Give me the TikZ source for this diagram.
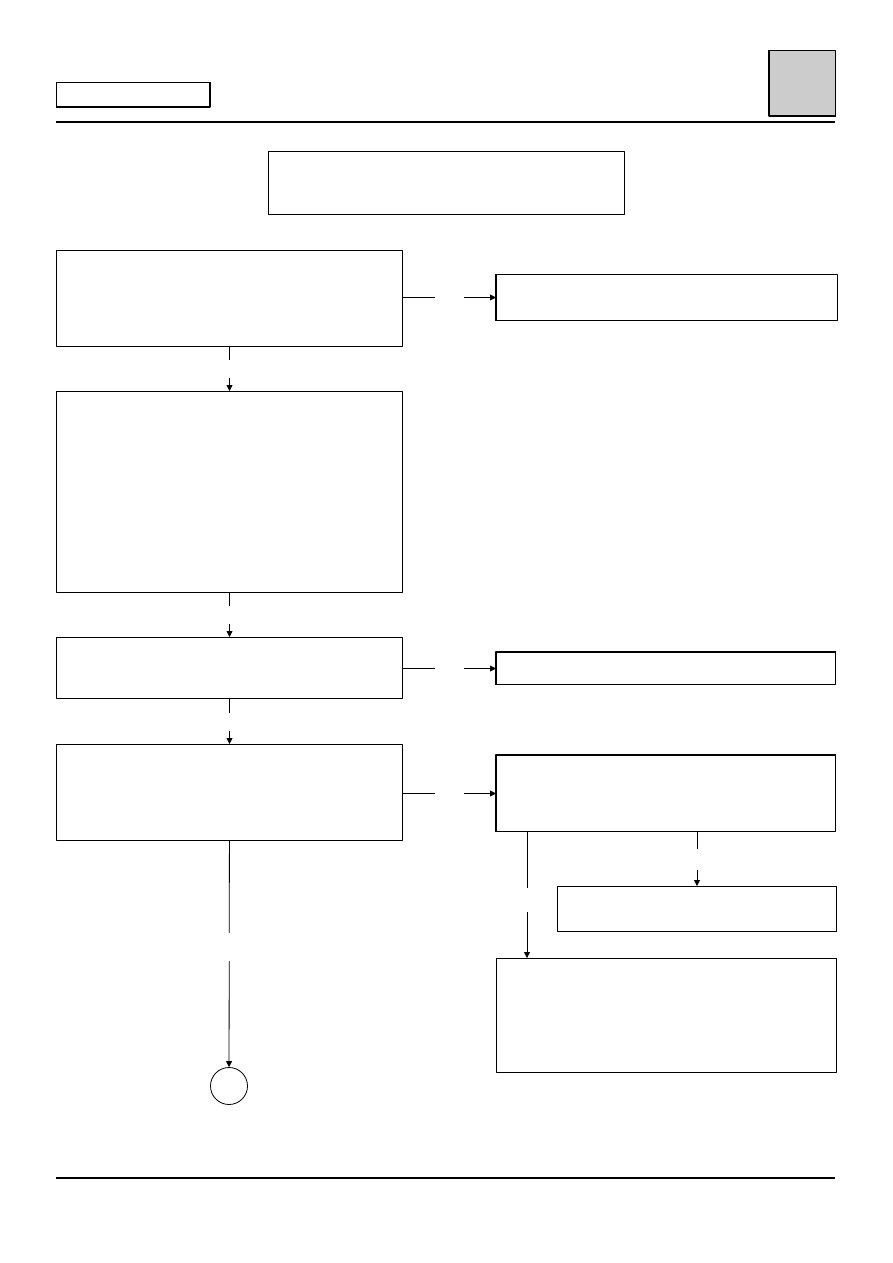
\documentclass[tikz,border=0pt]{standalone}
\usetikzlibrary{arrows.meta}
\begin{document}
\begin{tikzpicture}[x=1pt, y=-1pt, >={Triangle[length=6pt,width=6pt]}, line join=round,
		box/.style={draw, line width=1pt, inner sep=0pt, anchor=north west},
		lbl/.style={fill=white, inner sep=0pt, minimum size=#1},
		link/.style={->, line width=0.8pt}]
	\useasboundingbox (0,0) rectangle (893,1263);
	% header
	\node[box, minimum width=153, minimum height=24] (ref) at (56,82) {};
	\node[box, fill=black!20, minimum width=66, minimum height=65] (tab) at (769,50) {};
	\draw[line width=1.6pt] (ref.north east)--(ref.south east)--(ref.south west);
	\draw[line width=1.6pt] (tab.north west)--(tab.south west)--(tab.south east);
	\draw[line width=1.8pt] (56,122)--(835,122);
	\node[box, minimum width=356, minimum height=63] (title) at (268,151) {};
	% left column
	\node[box, minimum width=346, minimum height=96] (b1) at (56,250) {};
	\node[box, minimum width=346, minimum height=201] (b2) at (56,391) {};
	\node[box, minimum width=346, minimum height=61] (b3) at (56,637) {};
	\node[box, minimum width=346, minimum height=96] (b4) at (56,744) {};
	\node[draw, line width=0.8pt, circle, minimum size=37, inner sep=0pt] (c1) at (229,1086) {};
	% right column
	\node[box, minimum width=341, minimum height=46] (r1) at (496,274) {};
	\node[box, minimum width=339, minimum height=32] (r2) at (496,652) {};
	\node[box, minimum width=339, minimum height=76] (r3) at (496,755) {};
	\node[box, minimum width=279, minimum height=45] (r4) at (557,886) {};
	\node[box, minimum width=340, minimum height=114] (r5) at (496,958) {};
	\draw[line width=1.8pt] (r1.north west)--(r1.south west);
	\draw[line width=1.8pt] (r2.south west)--(r2.north west)--(r2.north east);
	\draw[line width=1.8pt] (r3.south west)--(r3.north west)--(r3.north east);
	\coordinate (r3a) at (527,831);
	% links
	\draw[link] (b1)--node[lbl=18]{} (b2);
	\draw[link] (b2)--node[lbl=18]{} (b3);
	\draw[link] (b3)--node[lbl=18]{} (b4);
	\draw[link] (b4)--node[lbl=28, pos=.47]{} (c1);
	\draw[link] (r1.west -| b1.east)--node[lbl=29]{} (r1.west);
	\draw[link] (r2.west -| b3.east)--node[lbl=29]{} (r2.west);
	\draw[link] (r3.west -| b4.east)--node[lbl=29]{} (r3.west);
	\draw[link] (r3.south -| r4.north)--node[lbl=21]{} (r4.north);
	\draw[link] (r3a)--node[lbl=24, pos=.54]{} (r3a |- r5.north);
	% footer
	\draw[line width=1.8pt] (56,1178)--(835,1178);
\end{tikzpicture}
\end{document}
